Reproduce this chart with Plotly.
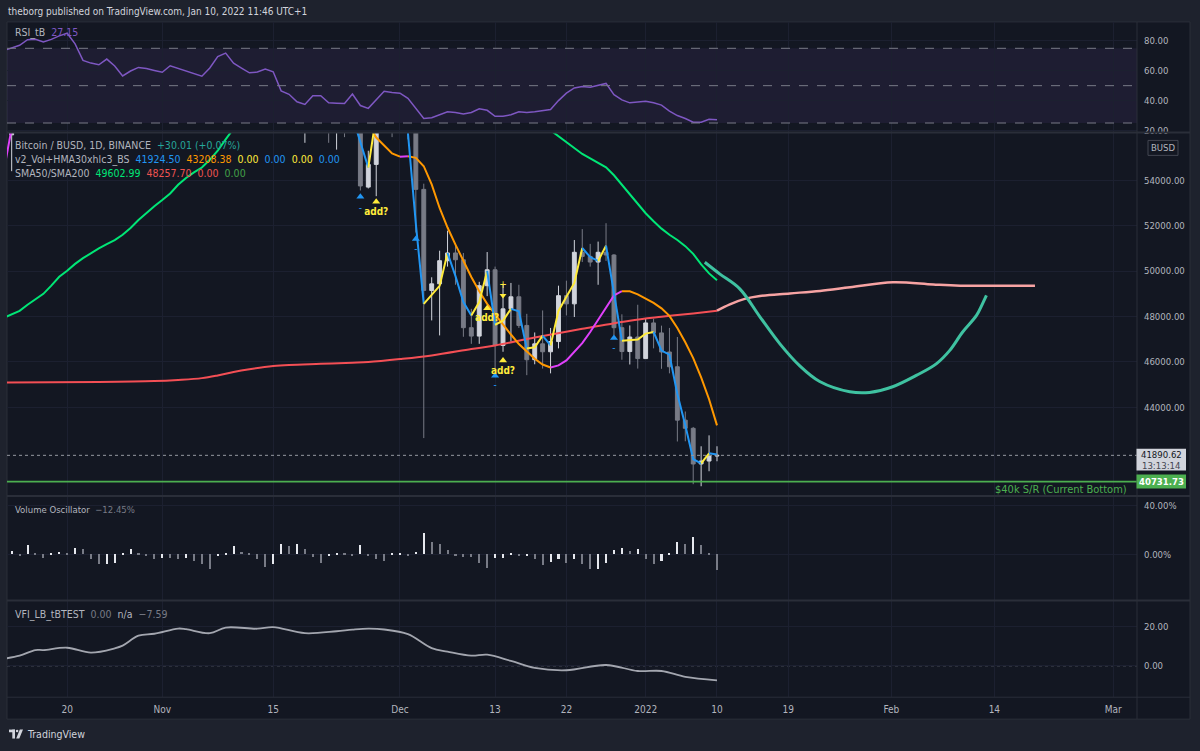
import plotly.graph_objects as go
import pandas as pd

W, H = 1200, 751
def px(x): return x / W
def py(y): return 1 - y / H

BG = "#131722"; FRAME = "#1e222d"; GRID = "#1c2030"; SEP = "#2a2e39"; TXT = "#b2b5be"
FONT = "Liberation Sans Narrow, DejaVu Sans Condensed, Roboto, sans-serif"

# ---------------- data ----------------
days = [d.strftime("%Y-%m-%d") for d in pd.date_range("2021-10-12", "2022-01-10", freq="D")]

rsi_values = [73.5, 75.3, 77.0, 80.8, 81.1, 79.3, 81.0, 83.3, 85.1, 78.0,
              66.9, 65.1, 64.0, 67.8, 63.2, 56.5, 59.8, 62.2, 61.5, 60.2,
              59.0, 63.3, 61.5, 59.6, 58.0, 56.3, 61.8, 69.5, 71.8, 65.1,
              61.8, 58.6, 59.1, 61.1, 59.3, 46.5, 44.2, 39.2, 37.4, 43.3,
              43.3, 38.6, 38.3, 38.0, 44.4, 36.7, 34.8, 40.7, 46.2, 45.5,
              45.0,
              41.5, 34.5, 28.0, 28.5, 30.5, 32.5, 32.0, 31.0, 32.0, 34.5,
              33.5, 29.5, 29.5, 30.5, 32.5, 32.0, 32.5, 33.5, 34.0, 40.0,
              45.0, 48.5, 49.5, 49.0, 50.0, 51.5, 44.0, 40.5, 38.5, 39.0,
              39.5, 38.5, 37.0, 33.0, 30.0, 28.0, 25.5, 25.5, 27.5, 27.15]

candle_dates = ["2021-10-13"] + [d.strftime("%Y-%m-%d") for d in pd.date_range("2021-11-17", "2022-01-10", freq="D")]
candle_open = [56000,
    60100, 60400, 56900, 58100, 59700, 58700, 56300, 57600, 57200, 58900, 53700, 54700, 57300, 57800,
    57000, 56900, 56500, 53600, 49150, 49440, 50460, 50800, 50500, 47510, 47140, 49360, 50060, 46730,
    48340, 48870, 47610, 46100, 46800, 46450, 46900, 48920, 48560, 50830, 50650, 50400, 50830, 50710,
    47510, 46460, 47100, 46150, 47720, 47280, 46440, 45790, 43440, 43080, 41510, 41640, 41860]
candle_high = [57800,
    60800, 60900, 58400, 59900, 60000, 59300, 57900, 57800, 59400, 59200, 55300, 57400, 58900, 59200,
    59100, 57200, 57600, 53850, 49730, 50900, 51780, 51200, 50800, 48340, 49530, 50840, 50200, 49440,
    49480, 49400, 48120, 47300, 48270, 47500, 49360, 49580, 51370, 51850, 51200, 51300, 52110, 50750,
    48100, 47610, 48520, 47900, 47900, 47600, 47500, 47100, 43820, 43140, 42290, 42770, 42290]
candle_low = [54400,
    58400, 56500, 55650, 57400, 58500, 55650, 55350, 55900, 57000, 53550, 53640, 53300, 56700, 55900,
    56500, 55800, 51700, 42650, 47830, 47170, 50200, 49400, 47110, 46800, 46800, 48900, 45700, 46450,
    46900, 47500, 45420, 45900, 45710, 45500, 46600, 48050, 47980, 50400, 50200, 49400, 50450, 47170,
    46100, 45890, 45710, 46150, 46600, 45700, 45500, 42500, 42510, 40620, 40530, 41190, 41630]
candle_close = [57400,
    60400, 56900, 58100, 59700, 58700, 56300, 57600, 57200, 58900, 53750, 54700, 57300, 57800, 57000,
    56900, 56500, 53600, 49150, 49440, 50460, 50800, 50500, 47510, 47140, 49360, 50060, 46730, 48340,
    48870, 47610, 46100, 46800, 46450, 46900, 48920, 48560, 50830, 50650, 50400, 50830, 50710, 47510,
    46460, 47100, 46150, 47720, 47280, 46440, 45790, 43440, 43080, 41510, 41640, 41860, 41890.62]

sma50 = [47950, 48100, 48250, 48520, 48760, 49000, 49360, 49750, 50020, 50320,
         50570, 50800, 51000, 51190, 51370, 51600, 51900, 52250, 52560, 52860,
         53130, 53420, 53800, 54100, 54350, 54560, 54900, 55300, 55800, 56300, 56750] + [None] * 38 + \
        [56200, 55950, 55700, 55420, 55160, 54960, 54770, 54570, 54220, 53800, 53390, 52960,
         52550, 52200, 51870, 51600, 51370, 51100, 50760, 50300, 49900, 49602.99]

sma200_dates = ["2021-10-12", "2021-10-24", "2021-10-31", "2021-11-03", "2021-11-06", "2021-11-08",
                "2021-11-10", "2021-11-12", "2021-11-15", "2021-11-17", "2021-11-21", "2021-11-25",
                "2021-11-27", "2021-12-01", "2021-12-05", "2021-12-10", "2021-12-13", "2021-12-18",
                "2021-12-24", "2021-12-30", "2022-01-03", "2022-01-07", "2022-01-10"]
sma200 = [45100, 45120, 45160, 45210, 45290, 45410, 45560, 45680, 45820, 45870, 45920, 45970,
          46000, 46130, 46290, 46570, 46730, 47080, 47460, 47820, 47990, 48140, 48257.70]

hma_slow = [54400, 56300] + [None] * 43 + \
    [57200, 56450, 55880, 55530, 55180,
     55040, 55055, 54990, 54620, 53820, 52780, 51920, 51170, 50420, 49740, 49110, 48560, 48100, 47630,
     47210, 46790, 46470, 46140, 45890, 45760, 45850, 46070, 46450, 46830, 47320, 47850, 48410, 48930,
     49120, 49110, 48980,
     48800, 48600, 48360, 48030, 47500, 46870, 46170, 45320, 44360, 43208.38]

hma_fast = [None] * 44 + \
    [56800, 55650, 54560, 56850, 57200, 57300,
     57200, 56100, 52080, 48560, 48970, 49350, 50800, 49780, 48640, 48050, 48640, 50010, 47640, 47820,
     48340, 48230, 46590, 46650, 47160, 46730, 48250, 48870, 49480, 51020, 50620, 50450, 51120, 49040,
     46940, 46960, 46990,
     47250, 47320, 46500, 46320, 44590, 43210, 41720, 41540, 41980, 41924.50]

proj_dates = ["2022-01-10 00:00", "2022-01-11 15:00", "2022-01-13 12:00", "2022-01-15 10:00",
              "2022-01-19 05:00", "2022-01-23 00:00", "2022-01-26 19:00", "2022-02-01 05:00",
              "2022-02-06 07:00", "2022-02-09 17:00", "2022-02-19 03:00"]
proj_values = [48258, 48540, 48780, 48910, 49020, 49130, 49290, 49510, 49410, 49360, 49360]

curve_dates = ["2022-01-08 11:00", "2022-01-10 08:00", "2022-01-12 21:00", "2022-01-15 10:00",
               "2022-01-17 22:00", "2022-01-20 10:00", "2022-01-22 23:00", "2022-01-26 18:00",
               "2022-01-29 06:00", "2022-02-01 04:00", "2022-02-04 05:00", "2022-02-06 17:00",
               "2022-02-08 09:00", "2022-02-10 00:00", "2022-02-11 18:00", "2022-02-12 12:00",
               "2022-02-13 00:00"]
curve_values = [50390, 49880, 49220, 47990, 46810, 45840, 45140, 44690, 44660, 44910, 45420,
                45930, 46510, 47320, 48050, 48560, 48930]

sig_dates = ["2021-11-26", "2021-12-03", "2021-12-13", "2021-12-28"]
sig_tri = [53270, 51410, 45390, 47060]
sig_dash = [52770, 50940, 44950, 46590]
add_dates = ["2021-11-28", "2021-12-12", "2021-12-14"]
add_tri = [53050, 48370, 46070]
add_text = [52580, 47900, 45590]
plus_date = ["2021-12-14"]; plus_val = [49360]; down_val = [48930]

last_price = 41890.62
support_price = 40731.73

vol_osc = [2.7, -0.8, 8.2, 0.8, -2.5, 0.5, 1.9, 0.6, 5.5, 4.6,
           -4.1, -8.2, -7.7, -7.4, 0.8, 4.6, 1.4, -0.8, -4.1, -2.7,
           -3.3, -3.4, -3.3, -5.5, -8.2, -12.3, -1.4, 1.4, 6.8, 1.9,
           0.8, -3.8, -10.0, -8.2, 9.0, 7.4, 9.0, 4.6, -2.2, -7.4,
           -1.4, 0.8, 0.6, -1.4, 7.7, -1.4, -4.1, -5.5, 0.6, 0.8,
           -0.8, 1.9, 17.8, 10.1, 9.0, 3.6, -1.4, -1.9, -2.2, -6.8,
           -10.9, -2.7, -2.6, 1.4, -1.4, -1.3, -4.1, -9.0, -6.3, -4.1,
           -6.8, -4.1, -8.2, -11.9, -11.6, -7.4, 3.6, 5.5, 2.7, 4.6,
           -3.6, -7.7, -5.5, 0.8, 10.1, 9.0, 14.2, 8.2, 0.6, -12.45]
vol_dates = days[1:]

vfi_dates = ["2021-10-12", "2021-10-14", "2021-10-16", "2021-10-17", "2021-10-20", "2021-10-23",
             "2021-10-26", "2021-10-27", "2021-10-29", "2021-10-31", "2021-11-03", "2021-11-04",
             "2021-11-07", "2021-11-09", "2021-11-13", "2021-11-15", "2021-11-19", "2021-11-23",
             "2021-11-25", "2021-11-27", "2021-11-29", "2021-12-02", "2021-12-05", "2021-12-07",
             "2021-12-10", "2021-12-12", "2021-12-15", "2021-12-18", "2021-12-22", "2021-12-27",
             "2021-12-31", "2022-01-03", "2022-01-06", "2022-01-10"]
vfi_values = [3.5, 5.1, 8.0, 8.0, 9.2, 6.7, 8.9, 10.3, 15.4, 16.4, 19.1, 18.8, 16.7, 19.6, 19.0,
              19.8, 16.7, 17.7, 18.5, 19.0, 18.6, 16.2, 9.0, 7.2, 5.1, 5.6, 2.4, -1.2, -2.4, 0.3,
              -2.8, -2.8, -5.8, -7.59]

tick_dates = ["2021-10-20", "2021-11-01", "2021-11-15", "2021-12-01", "2021-12-13", "2021-12-22",
              "2022-01-01", "2022-01-10", "2022-01-19", "2022-02-01", "2022-02-14", "2022-03-01"]
tick_text = ["20", "Nov", "15", "Dec", "13", "22", "2022", "10", "19", "Feb", "14", "Mar"]
x_range = ["2021-10-12 09:50", "2022-03-04 00:00"]

# ---------------- figure ----------------
fig = go.Figure()

# RSI panel (x / y)
fig.add_trace(go.Scatter(x=days, y=rsi_values, mode="lines", line=dict(color="#7e57c2", width=1.5),
                         xaxis="x", yaxis="y", hoverinfo="skip"))

# price panel (x2 / y2)
fig.add_trace(go.Candlestick(x=candle_dates, open=candle_open, high=candle_high, low=candle_low,
                             close=candle_close, xaxis="x2", yaxis="y2",
                             increasing=dict(line=dict(color="#d1d4dc", width=1), fillcolor="#d1d4dc"),
                             decreasing=dict(line=dict(color="#787b86", width=1), fillcolor="#787b86"),
                             whiskerwidth=0, hoverinfo="skip"))

fig.add_trace(go.Scatter(x=days, y=sma50, mode="lines", line=dict(color="#00e676", width=2),
                         xaxis="x2", yaxis="y2", connectgaps=False, hoverinfo="skip"))
fig.add_trace(go.Scatter(x=sma200_dates, y=sma200, mode="lines", line=dict(color="#f44f55", width=2, shape="spline"),
                         xaxis="x2", yaxis="y2", hoverinfo="skip"))
fig.add_trace(go.Scatter(x=proj_dates, y=proj_values, mode="lines", line=dict(color="#f7a3a3", width=2.5, shape="spline"),
                         xaxis="x2", yaxis="y2", hoverinfo="skip"))
fig.add_trace(go.Scatter(x=curve_dates, y=curve_values, mode="lines", line=dict(color="#3fc2a1", width=3, shape="spline"),
                         xaxis="x2", yaxis="y2", hoverinfo="skip"))


def slope_runs(xs, vals, up_color, down_color):
    runs, cur = [], None
    for i in range(len(vals) - 1):
        a, b = vals[i], vals[i + 1]
        if a is None or b is None:
            cur = None
            continue
        c = up_color if b > a else down_color
        if cur is not None and cur[0] == c and cur[1][-1] == xs[i]:
            cur[1].append(xs[i + 1]); cur[2].append(b)
        else:
            cur = (c, [xs[i], xs[i + 1]], [a, b])
            runs.append(cur)
    return runs


for c, xs, ys in slope_runs(days, hma_slow, "#e040fb", "#ff9800"):
    fig.add_trace(go.Scatter(x=xs, y=ys, mode="lines", line=dict(color=c, width=2),
                             xaxis="x2", yaxis="y2", hoverinfo="skip"))
for c, xs, ys in slope_runs(days, hma_fast, "#ffeb3b", "#2196f3"):
    fig.add_trace(go.Scatter(x=xs, y=ys, mode="lines", line=dict(color=c, width=2),
                             xaxis="x2", yaxis="y2", hoverinfo="skip"))

fig.add_trace(go.Scatter(x=sig_dates, y=sig_tri, mode="markers",
                         marker=dict(symbol="triangle-up", size=7, color="#2196f3"),
                         xaxis="x2", yaxis="y2", hoverinfo="skip"))
fig.add_trace(go.Scatter(x=sig_dates, y=sig_dash, mode="text", text=["-"] * len(sig_dates),
                         textfont=dict(color="#2196f3", size=10, family=FONT),
                         xaxis="x2", yaxis="y2", hoverinfo="skip"))
fig.add_trace(go.Scatter(x=add_dates, y=add_tri, mode="markers",
                         marker=dict(symbol="triangle-up", size=7, color="#ffeb3b"),
                         xaxis="x2", yaxis="y2", hoverinfo="skip"))
fig.add_trace(go.Scatter(x=add_dates, y=add_text, mode="text", text=["<b>add?</b>"] * len(add_dates),
                         textfont=dict(color="#ffeb3b", size=10, family=FONT),
                         xaxis="x2", yaxis="y2", hoverinfo="skip"))
fig.add_trace(go.Scatter(x=plus_date, y=plus_val, mode="text", text=["+"],
                         textfont=dict(color="#ffeb3b", size=10, family=FONT),
                         xaxis="x2", yaxis="y2", hoverinfo="skip"))
fig.add_trace(go.Scatter(x=plus_date, y=down_val, mode="markers",
                         marker=dict(symbol="triangle-down", size=6, color="#ffeb3b"),
                         xaxis="x2", yaxis="y2", hoverinfo="skip"))

# volume oscillator (x3 / y3)
vol_colors = []
prev = None
for v in vol_osc:
    vol_colors.append("#e6e8ee" if (prev is None or v > prev) else "#787b86")
    prev = v
fig.add_trace(go.Bar(x=vol_dates, y=vol_osc, marker=dict(color=vol_colors, line=dict(width=0)),
                     width=0.26 * 86400000, xaxis="x3", yaxis="y3", hoverinfo="skip"))

# VFI (x4 / y4)
fig.add_trace(go.Scatter(x=vfi_dates, y=vfi_values, mode="lines", line=dict(color="#a3a6af", width=1.8, shape="spline"),
                         xaxis="x4", yaxis="y4", hoverinfo="skip"))

# ---------------- axes ----------------
xdom = [px(7), px(1137)]
xcommon = dict(domain=xdom, type="date", range=x_range, tickvals=tick_dates, ticktext=tick_text,
               showgrid=True, gridcolor=GRID, gridwidth=1, zeroline=False, showline=False,
               ticks="", fixedrange=True)
ycommon = dict(side="right", showgrid=True, gridcolor=GRID, zeroline=False, showline=False,
               ticks="", ticklabelstandoff=6, tickfont=dict(color=TXT, size=9.5, family=FONT))

fig.update_layout(
    xaxis=dict(**xcommon, anchor="y", showticklabels=False),
    xaxis2=dict(**xcommon, anchor="y2", showticklabels=False, matches="x", rangeslider=dict(visible=False)),
    xaxis3=dict(**xcommon, anchor="y3", showticklabels=False, matches="x"),
    xaxis4=dict(**xcommon, anchor="y4", showticklabels=True, matches="x",
                tickfont=dict(color=TXT, size=10, family=FONT), ticklabelstandoff=5),
    yaxis=dict(**ycommon, anchor="x", domain=[py(133), py(22)], range=[18.67, 92.67],
               tickvals=[20, 40, 60, 80], ticktext=["20.00", "40.00", "60.00", "80.00"]),
    yaxis2=dict(**ycommon, anchor="x2", domain=[py(498), py(133)], range=[40100, 56105],
                tickvals=[44000, 46000, 48000, 50000, 52000, 54000],
                ticktext=["44000.00", "46000.00", "48000.00", "50000.00", "52000.00", "54000.00"]),
    yaxis3=dict(**ycommon, anchor="x3", domain=[py(603), py(498)], range=[-38.0, 48.2],
                tickvals=[0, 40], ticktext=["0.00%", "40.00%"]),
    yaxis4=dict(**ycommon, anchor="x4", domain=[py(700), py(603)], range=[-16.3, 33.5],
                tickvals=[0, 20], ticktext=["0.00", "20.00"]),
)

shapes = []
# chart background (including right price scale and time scale)
shapes.append(dict(type="rect", xref="paper", yref="paper", x0=px(7), x1=px(1190), y0=py(722), y1=py(22),
                   fillcolor=BG, line=dict(color=SEP, width=1), layer="below"))
# RSI band and levels
shapes.append(dict(type="rect", xref="x domain", yref="y", x0=0, x1=1, y0=25, y1=75,
                   fillcolor="rgba(126,87,194,0.10)", line=dict(width=0), layer="below"))
for lvl in [75, 50, 25]:
    shapes.append(dict(type="line", xref="x domain", yref="y", x0=0, x1=1, y0=lvl, y1=lvl,
                       line=dict(color="#787b86", width=1, dash="dash")))
# price lines
shapes.append(dict(type="line", xref="x2 domain", yref="y2", x0=0, x1=1, y0=last_price, y1=last_price,
                   line=dict(color="#9598a1", width=1, dash="dot")))
shapes.append(dict(type="line", xref="x2 domain", yref="y2", x0=0, x1=1, y0=support_price, y1=support_price,
                   line=dict(color="#4caf50", width=1.6)))
# zero lines
shapes.append(dict(type="line", xref="x3 domain", yref="y3", x0=0, x1=1, y0=0, y1=0,
                   line=dict(color="#787b86", width=1, dash="dash"), layer="below"))
shapes.append(dict(type="line", xref="x4 domain", yref="y4", x0=0, x1=1, y0=0, y1=0,
                   line=dict(color="#787b86", width=1.2, dash="dot"), layer="below"))
# pane separators
for yy in [133, 498, 603]:
    shapes.append(dict(type="line", xref="paper", yref="paper", x0=px(7), x1=px(1190), y0=py(yy), y1=py(yy),
                       line=dict(color=SEP, width=2)))
shapes.append(dict(type="line", xref="paper", yref="paper", x0=px(7), x1=px(1190), y0=py(700), y1=py(700),
                   line=dict(color=SEP, width=1)))
shapes.append(dict(type="line", xref="paper", yref="paper", x0=px(1137), x1=px(1137), y0=py(722), y1=py(22),
                   line=dict(color=SEP, width=1)))
# right scale labels
shapes.append(dict(type="rect", xref="paper", yref="paper", x0=px(1148), x1=px(1178), y0=py(156), y1=py(141),
                   line=dict(color="#434651", width=1), fillcolor=BG))
shapes.append(dict(type="rect", xref="paper", yref="paper", x0=px(1136.5), x1=px(1186), y0=py(472.5), y1=py(450.5),
                   line=dict(width=0), fillcolor="#d1d4dc"))
shapes.append(dict(type="rect", xref="paper", yref="paper", x0=px(1136.5), x1=px(1186), y0=py(490.5), y1=py(476.5),
                   line=dict(width=0), fillcolor="#4caf50"))
# TradingView logo
LOGO = "#d1d4dc"
shapes.append(dict(type="rect", xref="paper", yref="paper", x0=px(9), x1=px(15), y0=py(735.2), y1=py(732.5),
                   line=dict(width=0), fillcolor=LOGO))
shapes.append(dict(type="rect", xref="paper", yref="paper", x0=px(12.3), x1=px(15), y0=py(741.5), y1=py(732.5),
                   line=dict(width=0), fillcolor=LOGO))
shapes.append(dict(type="circle", xref="paper", yref="paper", x0=px(15.8), x1=px(18.4), y0=py(735.3), y1=py(732.7),
                   line=dict(width=0), fillcolor=LOGO))
shapes.append(dict(type="path", xref="paper", yref="paper",
                   path=f"M {px(19.8)},{py(732.5)} L {px(23)},{py(732.5)} L {px(19.3)},{py(741.5)} L {px(16.2)},{py(741.5)} Z",
                   line=dict(width=0), fillcolor=LOGO))


def ann(x, y, text, color=TXT, size=10.5, anchor="left", yanchor="middle"):
    return dict(x=px(x), y=py(y), xref="paper", yref="paper", text=text, showarrow=False,
                xanchor=anchor, yanchor=yanchor, font=dict(color=color, size=size, family=FONT))


NB = "\u00a0"
annotations = [
    ann(6, 12, "theborg published on TradingView.com, Jan 10, 2022 11:46 UTC+1", color="#d1d4dc", size=10),
    ann(13, 33, f"RSI_tB{NB} <span style='color:#7e57c2'>27.15</span>", size=10.5),
    ann(13, 146, f"Bitcoin / BUSD, 1D, BINANCE{NB} <span style='color:#26a69a'>+30.01 (+0.07%)</span>", size=10.5),
    ann(13, 160, f"v2_Vol+HMA30xhlc3_BS{NB} <span style='color:#2196f3'>41924.50</span>{NB} "
                 f"<span style='color:#ff9800'>43208.38</span>{NB} <span style='color:#ffeb3b'>0.00</span>{NB} "
                 f"<span style='color:#2196f3'>0.00</span>{NB} <span style='color:#ffeb3b'>0.00</span>{NB} "
                 f"<span style='color:#2196f3'>0.00</span>", size=10.5),
    ann(13, 174, f"SMA50/SMA200{NB} <span style='color:#00e676'>49602.99</span>{NB} "
                 f"<span style='color:#ef5350'>48257.70</span>{NB} <span style='color:#ef5350'>0.00</span>{NB} "
                 f"<span style='color:#43a047'>0.00</span>", size=10.5),
    ann(13, 512, f"Volume Oscillator{NB} <span style='color:#787b86'>\u221212.45%</span>", size=9.5),
    ann(13, 617, f"VFI_LB_tBTEST{NB} <span style='color:#787b86'>0.00</span>{NB} n/a{NB} "
                 f"<span style='color:#787b86'>\u22127.59</span>", size=10.5),
    ann(1163, 148.5, "BUSD", size=9.5, anchor="center"),
    ann(1161, 456.5, "41890.62", color="#131722", size=9.5, anchor="center"),
    ann(1161, 467, "13:13:14", color="#434651", size=9.5, anchor="center"),
    ann(1161, 483.5, "<b>40731.73</b>", color="#ffffff", size=9.5, anchor="center"),
    ann(1129, 491.5, "$40k S/R (Current Bottom)", color="#4caf50", size=11, anchor="right"),
    ann(25, 737, "TradingView", color="#d1d4dc", size=10.5),
]

fig.update_layout(width=W, height=H, margin=dict(l=0, r=0, t=0, b=0),
                  paper_bgcolor=FRAME, plot_bgcolor=BG, showlegend=False,
                  shapes=shapes, annotations=annotations, bargap=0, hovermode=False)

fig.write_html("out.html")
